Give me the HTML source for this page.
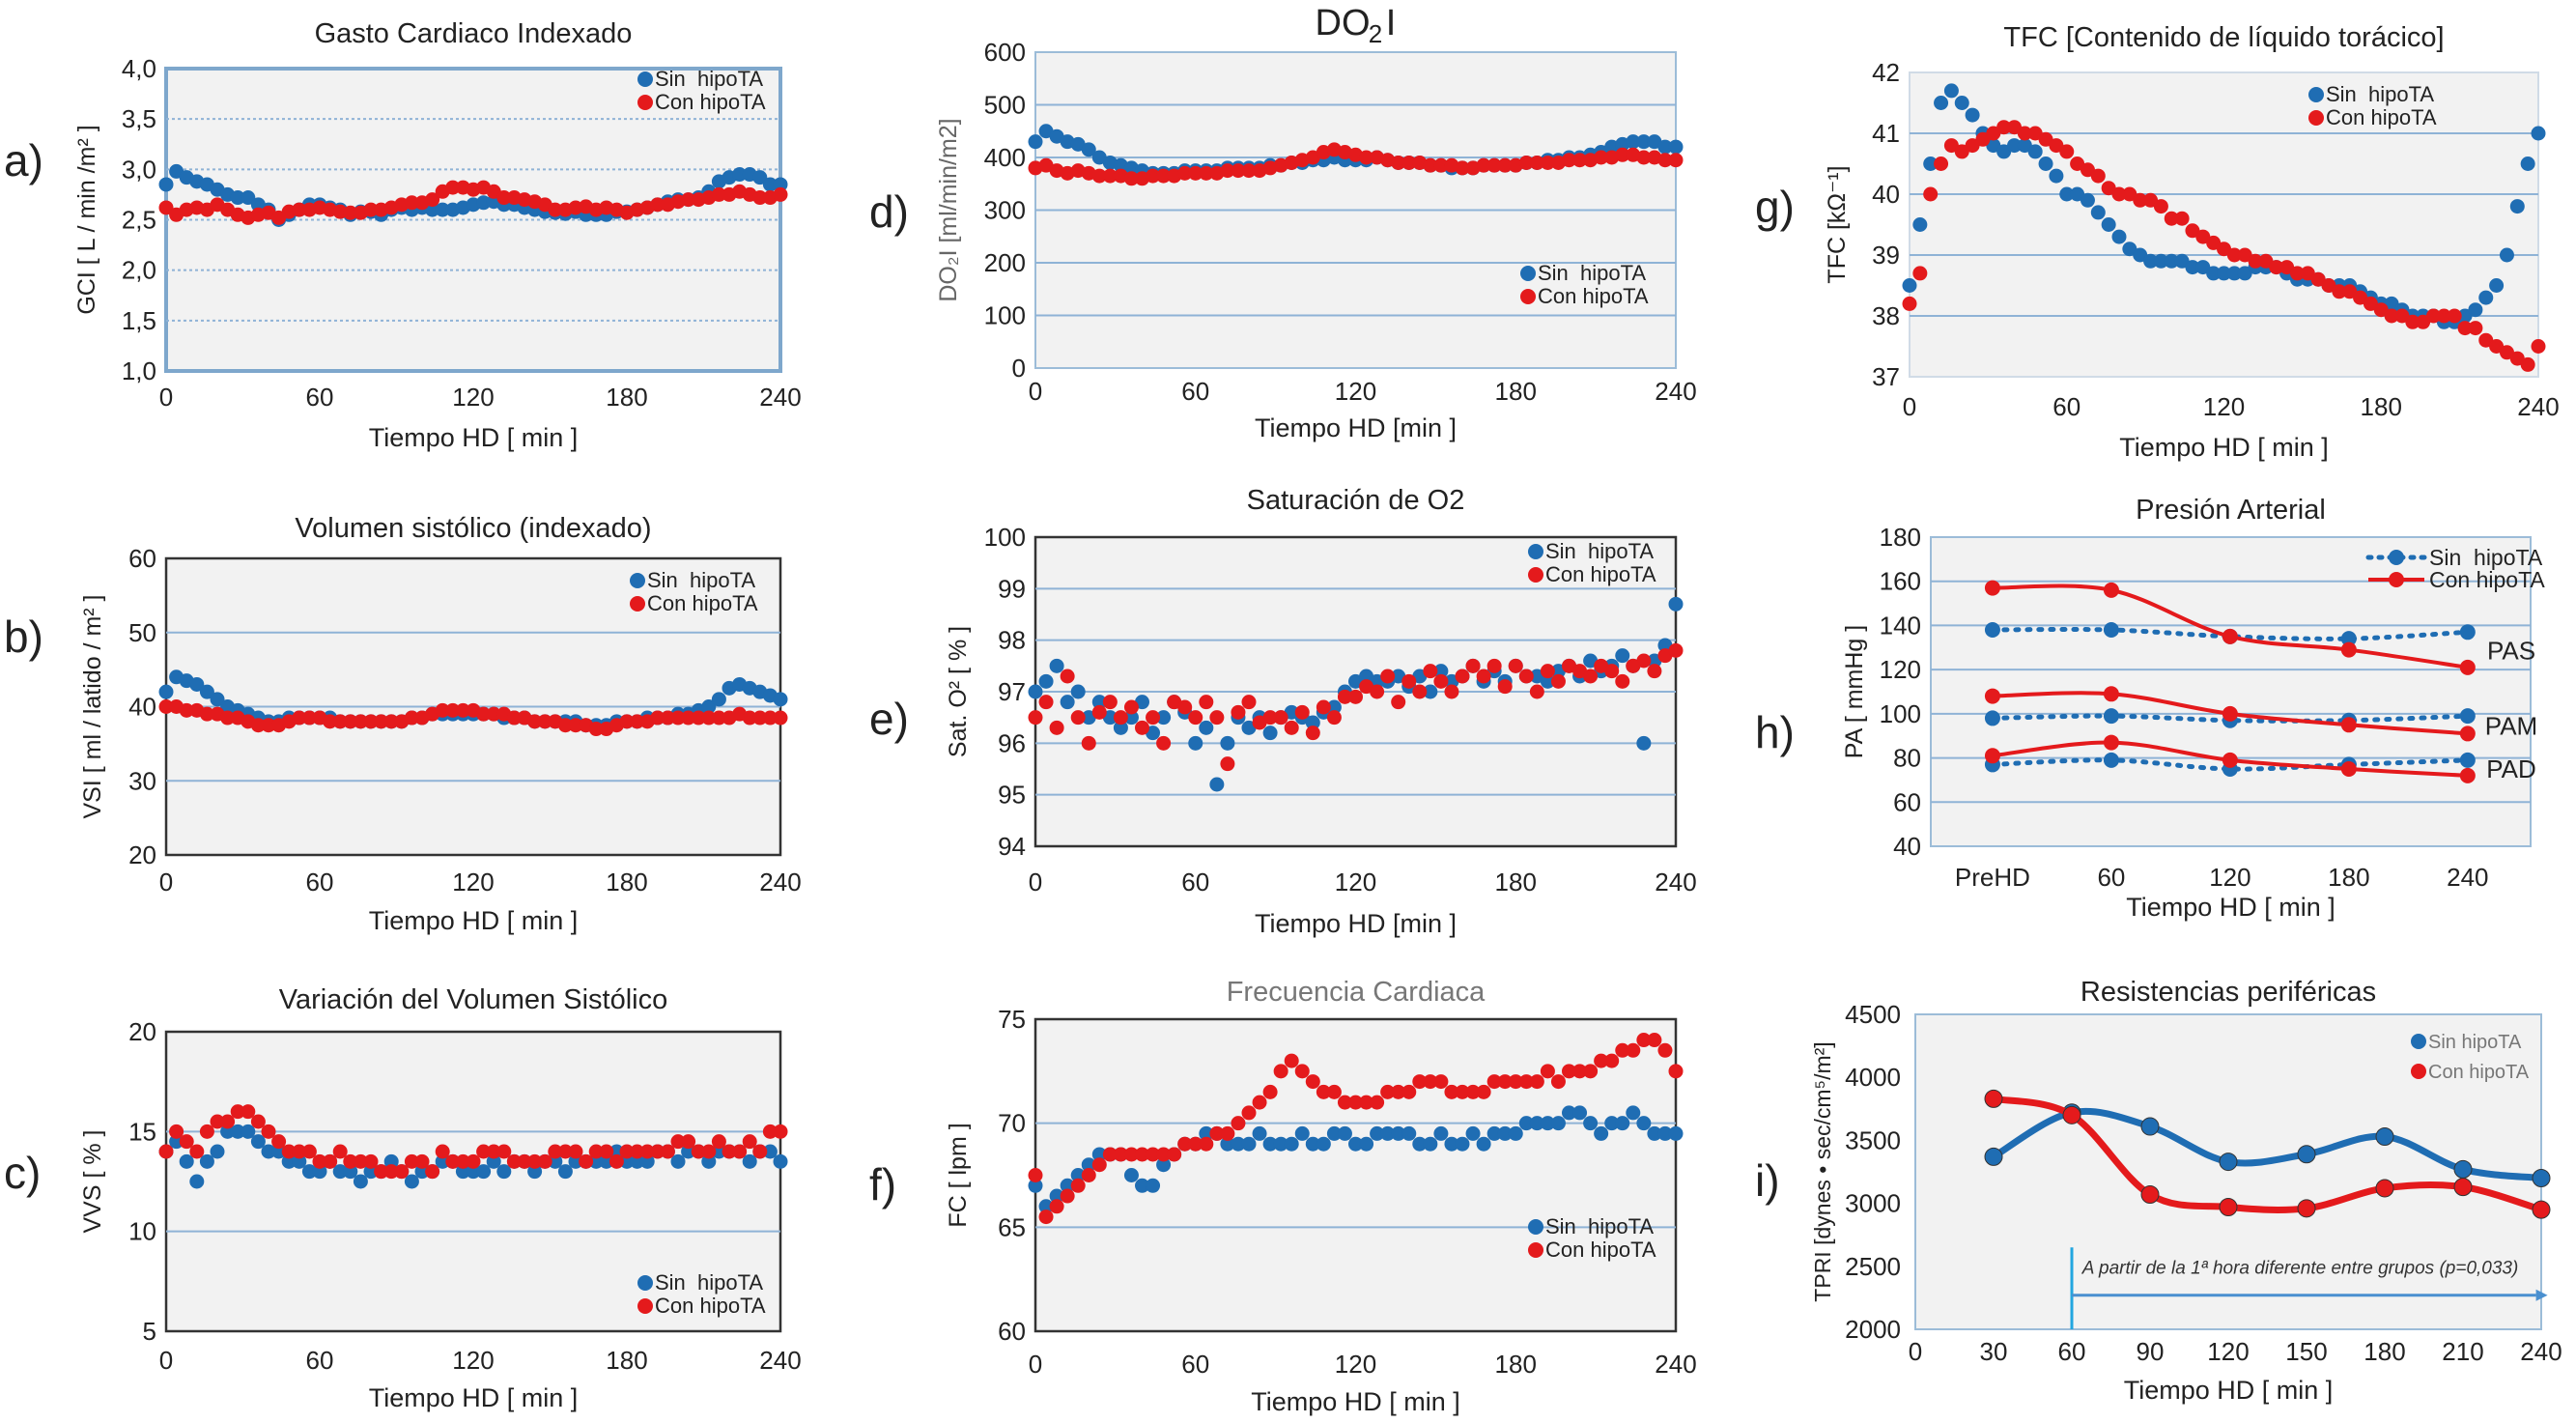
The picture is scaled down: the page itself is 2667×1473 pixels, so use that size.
<!DOCTYPE html>
<html><head><meta charset="utf-8"><style>
body{margin:0;background:#fff;width:2667px;height:1473px;overflow:hidden}
svg{display:block;font-family:"Liberation Sans",sans-serif}
</style></head><body>
<svg id="fig" width="2667" height="1473" viewBox="0 0 2667 1473" xml:space="preserve"></svg>
<script>
// ---- data ----
const timesA = Array.from({length:61},(_, i)=>i*4);
const gciSin=[2.85,2.98,2.92,2.88,2.85,2.8,2.75,2.72,2.72,2.65,2.6,2.5,2.55,2.6,2.65,2.65,2.62,2.6,2.55,2.58,2.58,2.55,2.6,2.62,2.6,2.62,2.6,2.6,2.6,2.62,2.65,2.67,2.68,2.65,2.65,2.62,2.6,2.58,2.57,2.56,2.58,2.55,2.55,2.55,2.58,2.58,2.6,2.62,2.65,2.68,2.7,2.7,2.72,2.78,2.88,2.92,2.95,2.95,2.92,2.85,2.85];
const gciCon=[2.62,2.55,2.6,2.62,2.6,2.65,2.6,2.55,2.52,2.55,2.57,2.52,2.58,2.6,2.6,2.62,2.6,2.58,2.57,2.57,2.6,2.6,2.62,2.65,2.67,2.67,2.7,2.78,2.82,2.82,2.8,2.82,2.78,2.72,2.72,2.7,2.68,2.65,2.6,2.6,2.62,2.63,2.6,2.62,2.6,2.57,2.6,2.62,2.65,2.65,2.68,2.7,2.7,2.72,2.75,2.75,2.78,2.75,2.72,2.72,2.75];
const vsiSin=[42,44,43.5,43,42,41,40,39.5,39,38.5,38,38,38.5,38.5,38.5,38.5,38.5,38,38,38,38,38,38,38,38.5,38.5,39,39,39,39,39,39,39,38.5,38.5,38.5,38,38,38,38,38,37.5,37.5,37.5,38,38,38,38.5,38.5,38.5,39,39,39.5,40,41,42.5,43,42.5,42,41.5,41];
const vsiCon=[40,40,39.5,39.5,39,39,38.5,38.5,38,37.5,37.5,37.5,38,38.5,38.5,38.5,38,38,38,38,38,38,38,38,38.5,38.5,39,39.5,39.5,39.5,39.5,39,39,39,38.5,38.5,38,38,38,37.5,37.5,37.5,37,37,37.5,38,38,38,38.5,38.5,38.5,38.5,38.5,38.5,38.5,38.5,39,38.5,38.5,38.5,38.5];
const vvsSin=[14,14.5,13.5,12.5,13.5,14,15,15,15,14.5,14,14,13.5,13.5,13,13,13.5,13,13,12.5,13,13,13.5,13,12.5,13,13,13.5,13.5,13,13,13,13.5,13,13.5,13.5,13,13.5,13.5,13,13.5,13.5,13.5,13.5,14,13.5,13.5,13.5,14,14,13.5,14,14,13.5,14,14,14,13.5,14,14,13.5];
const vvsCon=[14,15,14.5,14,15,15.5,15.5,16,16,15.5,15,14.5,14,14,14,13.5,13.5,14,13.5,13.5,13.5,13,13,13,13.5,13.5,13,14,13.5,13.5,13.5,14,14,14,13.5,13.5,13.5,13.5,14,14,14,13.5,14,14,13.5,14,14,14,14,14,14.5,14.5,14,14,14.5,14,14,14.5,14,15,15];
const do2Sin=[430,450,440,430,425,415,400,390,385,380,375,370,370,370,375,375,375,375,380,380,380,380,385,385,390,390,395,395,400,395,395,395,400,395,390,390,390,385,385,380,380,380,385,385,385,385,390,390,395,395,400,400,405,410,420,425,430,430,430,420,420];
const do2Con=[380,385,375,370,375,370,365,365,365,360,360,365,365,365,370,370,370,370,375,375,375,375,380,385,390,395,400,410,415,410,405,400,400,395,390,390,390,385,385,385,380,380,385,385,385,385,390,390,390,390,395,395,395,400,400,405,405,400,400,395,395];
const satSin=[97,97.2,97.5,96.8,97,96.5,96.8,96.5,96.3,96.5,96.8,96.2,96.5,96.8,96.6,96,96.3,95.2,96,96.5,96.3,96.5,96.2,96.5,96.6,96.5,96.4,96.6,96.7,97,97.2,97.3,97.2,97.2,97.3,97.1,97.3,97,97.4,97.2,97.3,97.5,97.2,97.4,97.2,97.5,97.3,97.3,97.2,97.4,97.5,97.3,97.6,97.4,97.5,97.7,97.5,96,97.6,97.9,98.7];
const satCon=[96.5,96.8,96.3,97.3,96.5,96,96.6,96.8,96.5,96.7,96.3,96.5,96,96.8,96.7,96.5,96.8,96.5,95.6,96.6,96.8,96.4,96.5,96.5,96.3,96.6,96.2,96.7,96.5,96.9,96.9,97.1,97,97.3,96.8,97.2,97,97.4,97.2,97,97.3,97.5,97.3,97.5,97.1,97.5,97.3,97,97.4,97.2,97.5,97.4,97.3,97.5,97.4,97.2,97.5,97.6,97.4,97.7,97.8];
const fcSin=[67,66,66.5,67,67.5,68,68.5,68.5,68.5,67.5,67,67,68,68.5,69,69,69.5,69.5,69,69,69,69.5,69,69,69,69.5,69,69,69.5,69.5,69,69,69.5,69.5,69.5,69.5,69,69,69.5,69,69,69.5,69,69.5,69.5,69.5,70,70,70,70,70.5,70.5,70,69.5,70,70,70.5,70,69.5,69.5,69.5];
const fcCon=[67.5,65.5,66,66.5,67,67.5,68,68.5,68.5,68.5,68.5,68.5,68.5,68.5,69,69,69,69.5,69.5,70,70.5,71,71.5,72.5,73,72.5,72,71.5,71.5,71,71,71,71,71.5,71.5,71.5,72,72,72,71.5,71.5,71.5,71.5,72,72,72,72,72,72.5,72,72.5,72.5,72.5,73,73,73.5,73.5,74,74,73.5,72.5];
const tfcSin=[38.5,39.5,40.5,41.5,41.7,41.5,41.3,41,40.8,40.7,40.8,40.8,40.7,40.5,40.3,40,40,39.9,39.7,39.5,39.3,39.1,39,38.9,38.9,38.9,38.9,38.8,38.8,38.7,38.7,38.7,38.7,38.8,38.8,38.8,38.7,38.6,38.6,38.6,38.5,38.5,38.5,38.4,38.3,38.2,38.2,38.1,38,38,38,37.9,37.9,38,38.1,38.3,38.5,39,39.8,40.5,41];
const tfcCon=[38.2,38.7,40,40.5,40.8,40.7,40.8,40.9,41,41.1,41.1,41,41,40.9,40.8,40.7,40.5,40.4,40.3,40.1,40,40,39.9,39.9,39.8,39.6,39.6,39.4,39.3,39.2,39.1,39,39,38.9,38.9,38.8,38.8,38.7,38.7,38.6,38.5,38.4,38.4,38.3,38.2,38.1,38,38,37.9,37.9,38,38,38,37.8,37.8,37.6,37.5,37.4,37.3,37.2,37.5];
const paCats=["PreHD","60","120","180","240"];
const pasSin=[138,138,135,134,137], pasCon=[157,156,135,129,121];
const pamSin=[98,99,97,97,99], pamCon=[108,109,100,95,91];
const padSin=[77,79,75,77,79], padCon=[81,87,79,75,72];
const tpriTimes=[30,60,90,120,150,180,210,240];
const tpriSin=[3370,3720,3610,3330,3390,3530,3270,3200];
const tpriCon=[3830,3700,3070,2970,2960,3120,3130,2950];

const BLUE="#1f6db3", RED="#e41a1c";
const svg=document.getElementById('fig');
const NS="http://www.w3.org/2000/svg";
function mk(tag,attrs,parent){const e=document.createElementNS(NS,tag);for(const k in attrs)e.setAttribute(k,attrs[k]);(parent||svg).appendChild(e);return e;}
function txt(s,x,y,size,opts,parent){opts=opts||{};const t=mk('text',{x:x,y:y,'font-size':size,'text-anchor':opts.anchor||'middle',fill:opts.fill||'#222'},parent);
 if(opts.rot)t.setAttribute('transform',`rotate(-90 ${x} ${y})`);if(opts.italic)t.setAttribute('font-style','italic');if(opts.weight)t.setAttribute('font-weight',opts.weight);t.textContent=s;return t;}
function smooth(pts){let d=`M${pts[0][0]},${pts[0][1]}`;for(let i=0;i<pts.length-1;i++){const p0=pts[i-1]||pts[i],p1=pts[i],p2=pts[i+1],p3=pts[i+2]||p2;
 d+=` C${p1[0]+(p2[0]-p0[0])/6},${p1[1]+(p2[1]-p0[1])/6} ${p2[0]-(p3[0]-p1[0])/6},${p2[1]-(p3[1]-p1[1])/6} ${p2[0]},${p2[1]}`;}return d;}

function panel(o){
 const g=mk('g',{});
 
 
 const sx=v=>o.x0+(v-o.xmin)/(o.xmax-o.xmin)*(o.x1-o.x0);
 const sy=v=>o.y1-(v-o.ymin)/(o.ymax-o.ymin)*(o.y1-o.y0);
 const bg=mk('rect',{x:o.x0,y:o.y0,width:o.x1-o.x0,height:o.y1-o.y0,fill:'#f2f2f2',stroke:o.frame||'#7ea7cc','stroke-width':o.fw||3},g);
 
 
 o.yticks.forEach(v=>{
  if(v>o.ymin&&v<o.ymax&&o.grid!==false){const l=mk('line',{x1:o.x0,x2:o.x1,y1:sy(v),y2:sy(v),stroke:'#8fb3d6','stroke-width':2,'stroke-dasharray':o.gdash||'3 3'},g);
   
   }
  const t=txt(o.yfmt?o.yfmt(v):String(v),o.ytx||o.x0-10,sy(v)+9,o.tfs||26,{anchor:'end'},g);
  
  
 });
 (o.xticks||[]).forEach((v,i)=>{const lab=o.xlabels?o.xlabels[i]:String(v);
  const t=txt(lab,sx(v),o.xty,o.tfs||26,{},g);
  
  });
 const ti=txt(o.title,o.tx||(o.x0+o.x1)/2,o.ty,o.titfs||29,{fill:o.tfill||'#222'},g);
 
 
 const xl=txt(o.xlabel,(o.x0+o.x1)/2,o.xly,27,{},g);
 
 
 const yl=txt(o.ylabel,o.ylx,(o.y0+o.y1)/2,o.ylfs||25,{rot:true,fill:o.ylfill||'#222'},g);
 
 
 const pl=txt(o.letter,o.lx,o.ly,46,{anchor:'start'},g);
 
 
 return {g,sx,sy};
}
function scatter(p,xs,ys,color,name,r){
 xs.forEach((x,i)=>{const c=mk('circle',{cx:p.sx(x),cy:p.sy(ys[i]),r:r||7.5,fill:color},p.g);
  
  });
}
function legend(g,x,y,gap,fs,labels,style){
 [[BLUE,labels[0]],[RED,labels[1]]].forEach((e,i)=>{
  const it=mk('g',{},g);
  
  
  mk('circle',{cx:x,cy:y+i*gap-7,r:8,fill:e[0]},it);
  txt(e[1],x+10,y+i*gap,fs,{anchor:'start',fill:style||'#222'},it);
 });
}
const comma=d=>v=>v.toFixed(d).replace('.',',');
const xt=[0,60,120,180,240];
const LEG=["Sin\u00a0\u00a0hipoTA","Con hipoTA"];

// a
let p=panel({name:'panel-a-gci',x0:172,x1:808,y0:71,y1:384,xmin:0,xmax:240,ymin:1,ymax:4,yticks:[1,1.5,2,2.5,3,3.5,4],yfmt:comma(1),xticks:xt,xty:420,title:'Gasto Cardiaco Indexado',ty:44,xlabel:'Tiempo HD [ min ]',xly:462,ylabel:'GCI  [ L / min /m² ]',ylx:98,letter:'a)',lx:4,ly:182,fw:4});
scatter(p,timesA,gciSin,BLUE,'point-sin');scatter(p,timesA,gciCon,RED,'point-con');legend(p.g,668,89,24,22,LEG);
// b
p=panel({name:'panel-b-vsi',x0:172,x1:808,y0:578,y1:885,xmin:0,xmax:240,ymin:20,ymax:60,yticks:[20,30,40,50,60],xticks:xt,xty:922,title:'Volumen sistólico (indexado)',ty:556,xlabel:'Tiempo HD [ min ]',xly:962,ylabel:'VSI   [ ml / latido / m² ]',ylx:104,letter:'b)',lx:4,ly:675,frame:'#333',fw:2.5,gdash:'none'});
scatter(p,timesA,vsiSin,BLUE,'point-sin');scatter(p,timesA,vsiCon,RED,'point-con');legend(p.g,660,608,24,22,LEG);
// c
p=panel({name:'panel-c-vvs',x0:172,x1:808,y0:1068,y1:1378,xmin:0,xmax:240,ymin:5,ymax:20,yticks:[5,10,15,20],xticks:xt,xty:1417,title:'Variación del Volumen Sistólico',ty:1044,xlabel:'Tiempo HD [ min ]',xly:1456,ylabel:'VVS [ % ]',ylx:104,letter:'c)',lx:4,ly:1230,frame:'#333',fw:2.5,gdash:'none'});
scatter(p,timesA,vvsSin,BLUE,'point-sin');scatter(p,timesA,vvsCon,RED,'point-con');legend(p.g,668,1335,24,22,LEG);
// d
p=panel({name:'panel-d-do2i',x0:1072,x1:1735,y0:54,y1:381,xmin:0,xmax:240,ymin:0,ymax:600,yticks:[0,100,200,300,400,500,600],xticks:xt,xty:414,title:'',ty:30,xlabel:'Tiempo HD  [min ]',xly:452,ylabel:'DO₂I [ml/min/m2]',ylx:990,ylfill:'#666',letter:'d)',lx:900,ly:235,frame:'#9cbcd8',fw:2,gdash:'none'});
const dt=txt('DO',1390,36,38,{},p.g);
const dt2=txt('2',1424,44,26,{},p.g);
const dt3=txt('I',1440,36,38,{},p.g);
scatter(p,timesA,do2Sin,BLUE,'point-sin');scatter(p,timesA,do2Con,RED,'point-con');legend(p.g,1582,290,24,22,LEG);
// e
p=panel({name:'panel-e-sat',x0:1072,x1:1735,y0:556,y1:876,xmin:0,xmax:240,ymin:94,ymax:100,yticks:[94,95,96,97,98,99,100],xticks:xt,xty:922,title:'Saturación de O2',ty:527,xlabel:'Tiempo HD  [min ]',xly:965,ylabel:'Sat. O² [ % ]',ylx:1000,letter:'e)',lx:900,ly:760,frame:'#333',fw:2.5,gdash:'none'});
scatter(p,timesA,satSin,BLUE,'point-sin');scatter(p,timesA,satCon,RED,'point-con');legend(p.g,1590,578,24,22,LEG);
// f
p=panel({name:'panel-f-fc',x0:1072,x1:1735,y0:1055,y1:1378,xmin:0,xmax:240,ymin:60,ymax:75,yticks:[60,65,70,75],xticks:xt,xty:1421,title:'Frecuencia Cardiaca',ty:1036,tfill:'#777',xlabel:'Tiempo HD [ min ]',xly:1460,ylabel:'FC [ lpm ]',ylx:1000,letter:'f)',lx:900,ly:1242,frame:'#333',fw:2.5,gdash:'none'});
scatter(p,timesA,fcSin,BLUE,'point-sin');scatter(p,timesA,fcCon,RED,'point-con');legend(p.g,1590,1277,24,22,LEG);
// g
p=panel({name:'panel-g-tfc',x0:1977,x1:2628,y0:75,y1:390,xmin:0,xmax:240,ymin:37,ymax:42,yticks:[37,38,39,40,41,42],xticks:xt,xty:430,title:'TFC [Contenido de líquido torácico]',ty:48,xlabel:'Tiempo HD [ min ]',xly:472,ylabel:'TFC  [kΩ⁻¹]',ylx:1910,letter:'g)',lx:1817,ly:230,frame:'#d0dbe6',fw:2,gdash:'none'});
scatter(p,timesA,tfcSin,BLUE,'point-sin');scatter(p,timesA,tfcCon,RED,'point-con');legend(p.g,2398,105,24,22,LEG);
// h
p=panel({name:'panel-h-pa',x0:1999,x1:2620,y0:556,y1:876,xmin:-0.52,xmax:4.53,ymin:40,ymax:180,yticks:[40,60,80,100,120,140,160,180],xticks:[0,1,2,3,4],xlabels:paCats,xty:917,title:'Presión Arterial',ty:537,xlabel:'Tiempo HD [ min ]',xly:948,ylabel:'PA [ mmHg ]',ylx:1928,letter:'h)',lx:1817,ly:774,frame:'#9cbcd8',fw:2,gdash:'none'});
[[pasSin,pasCon,'PAS'],[pamSin,pamCon,'PAM'],[padSin,padCon,'PAD']].forEach(s=>{
 [[s[0],BLUE,'3 9',5],[s[1],RED,'none',4]].forEach(ser=>{
  const pts=ser[0].map((v,i)=>[p.sx(i),p.sy(v)]);
  const ln=mk('path',{d:smooth(pts),fill:'none',stroke:ser[1],'stroke-width':ser[3],'stroke-dasharray':ser[2],'stroke-linecap':'round'},p.g);
  
  
  scatter(p,ser[0].map((v,i)=>i),ser[0],ser[1],'point-'+s[2].toLowerCase(),8);
 });
 const lt=txt(s[2],2600,p.sy((s[0][4]+s[1][4])/2)+10,26,{},p.g);
 
 
});
(function(){const g=mk('g',{},p.g);
 mk('line',{x1:2452,x2:2510,y1:577,y2:577,stroke:BLUE,'stroke-width':5,'stroke-dasharray':'3 8','stroke-linecap':'round'},g);mk('circle',{cx:2481,cy:577,r:8,fill:BLUE},g);txt('Sin\u00a0\u00a0hipoTA',2515,585,23,{anchor:'start'},g);
 const g2=mk('g',{},p.g);
 mk('line',{x1:2452,x2:2510,y1:600,y2:600,stroke:RED,'stroke-width':4},g2);mk('circle',{cx:2481,cy:600,r:8,fill:RED},g2);txt('Con hipoTA',2515,608,23,{anchor:'start'},g2);})();
// i
p=panel({name:'panel-i-tpri',x0:1983,x1:2631,y0:1050,y1:1376,xmin:0,xmax:240,ymin:2000,ymax:4500,yticks:[2000,2500,3000,3500,4000,4500],ytx:1968,xticks:[0,30,60,90,120,150,180,210,240],xty:1408,title:'Resistencias periféricas',ty:1036,xlabel:'Tiempo HD [ min ]',xly:1448,ylabel:'TPRI [dynes • sec/cm⁵/m²]',ylx:1895,ylfs:23,letter:'i)',lx:1817,ly:1238,frame:'#9cbcd8',fw:2,grid:false});
[[tpriSin,BLUE,'sin'],[tpriCon,RED,'con']].forEach(s=>{
 const pts=tpriTimes.map((t,i)=>[p.sx(t),p.sy(s[0][i])]);
 const ln=mk('path',{d:smooth(pts),fill:'none',stroke:s[1],'stroke-width':7},p.g);
 
 
 tpriTimes.forEach((t,i)=>{const c=mk('circle',{cx:p.sx(t),cy:p.sy(s[0][i]),r:9,fill:s[1],stroke:'#333','stroke-width':1},p.g);
  
  });
});
(function(){const g=mk('g',{},p.g);
 mk('line',{x1:p.sx(60),x2:p.sx(60),y1:p.sy(2650),y2:p.sy(2000),stroke:'#22a6e0','stroke-width':3},g);
 mk('line',{x1:p.sx(60),x2:p.sx(238),y1:p.sy(2270),y2:p.sy(2270),stroke:'#4a90d0','stroke-width':3},g);
 mk('path',{d:`M${p.sx(238)},${p.sy(2270)-6} l12,6 l-12,6 z`,fill:'#4a90d0'},g);
 txt('A partir de la 1ª hora diferente entre grupos (p=0,033)',p.sx(64),p.sy(2440),19,{anchor:'start',italic:true,fill:'#333'},g);})();
legend(p.g,2504,1085,31,20,["Sin hipoTA","Con hipoTA"],'#777');
</script>
</body></html>
